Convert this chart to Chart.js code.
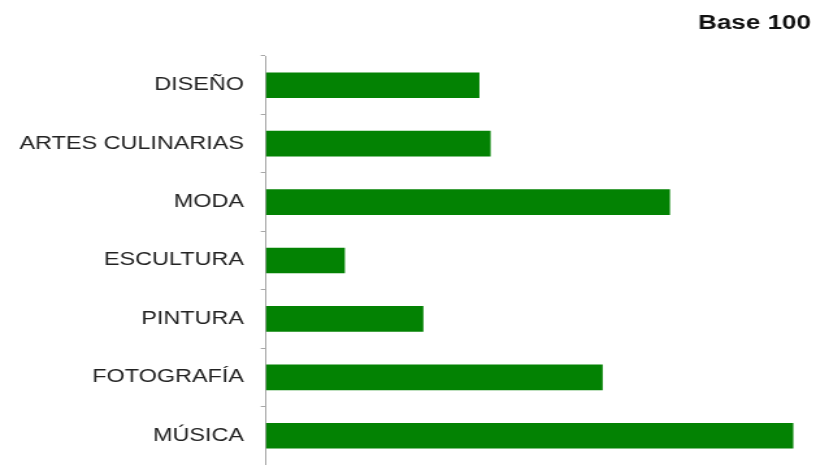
<!DOCTYPE html>
<html>
<head>
<meta charset="utf-8">
<script src="https://cdn.jsdelivr.net/npm/chart.js@4.4.1/dist/chart.umd.min.js"></script>
<style>
  html, body { margin: 0; padding: 0; background: #ffffff; overflow: hidden; }
</style>
</head>
<body>
<canvas id="c" width="628" height="465" style="display:block;width:816px;height:465px;"></canvas>
<script>
// Data
const categories = ['DISEÑO', 'ARTES CULINARIAS', 'MODA', 'ESCULTURA', 'PINTURA', 'FOTOGRAFÍA', 'MÚSICA'];
const values = [19, 20, 36, 7, 14, 30, 47];
const titleText = 'Base 100';
const xMax = 48.6;

const axisGray = '#a8a8a8';

new Chart(document.getElementById('c'), {
  type: 'bar',
  data: {
    labels: categories,
    datasets: [{
      data: values,
      backgroundColor: '#038203',
      borderWidth: 0,
      barThickness: 25
    }]
  },
  options: {
    indexAxis: 'y',
    responsive: false,
    animation: false,
    devicePixelRatio: 1,
    layout: { padding: { left: 0, right: 4, top: 0, bottom: 0 } },
    plugins: {
      legend: { display: false },
      tooltip: { enabled: false },
      title: {
        display: true,
        text: titleText,
        align: 'end',
        color: '#111111',
        font: { family: '"Liberation Sans", Arial, sans-serif', size: 20, weight: 'bold', lineHeight: 1.2 },
        padding: { top: 11, bottom: 21 }
      }
    },
    scales: {
      x: {
        display: false,
        min: 0,
        max: xMax
      },
      y: {
        afterFit: (scale) => {
          scale.width = 204.7;
          scale.paddingTop = 0;
          scale.paddingBottom = 0;
        },
        border: { display: true, color: axisGray, width: 1 },
        grid: {
          display: true,
          offset: true,
          drawOnChartArea: false,
          drawTicks: true,
          tickLength: 4,
          color: axisGray
        },
        ticks: {
          color: '#222222',
          padding: 13,
          font: { family: '"Liberation Sans", Arial, sans-serif', size: 18 }
        }
      }
    }
  }
});
</script>
</body>
</html>
